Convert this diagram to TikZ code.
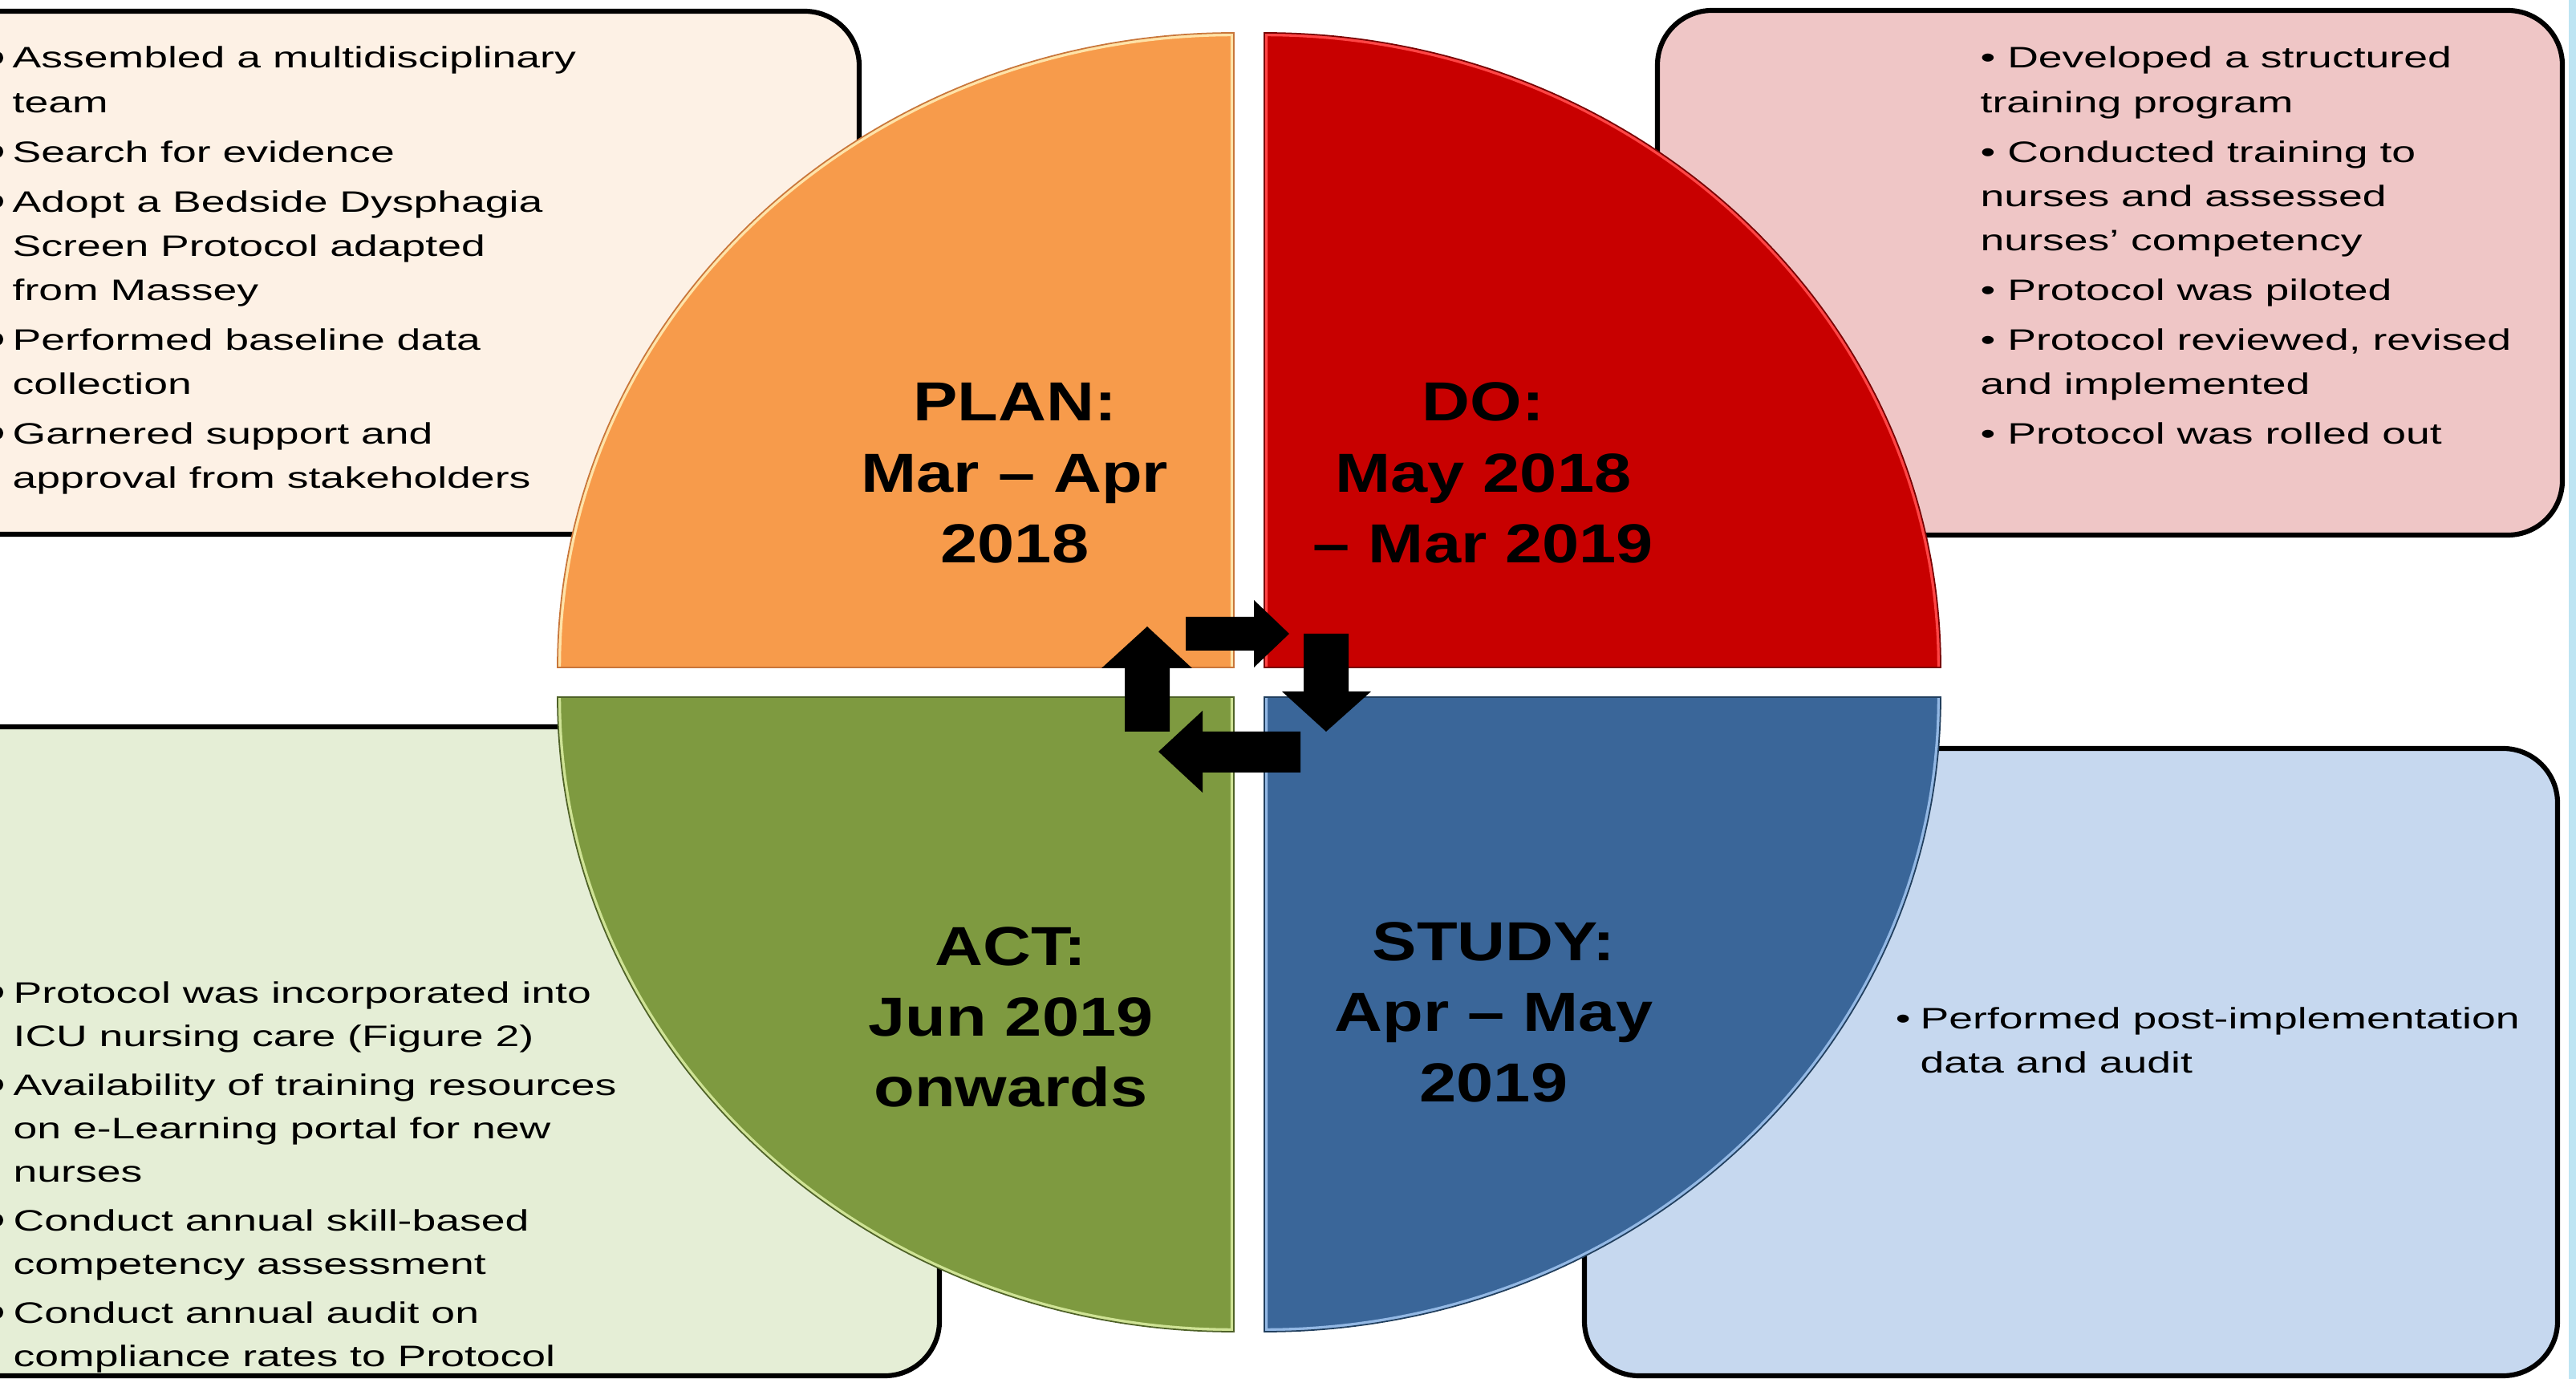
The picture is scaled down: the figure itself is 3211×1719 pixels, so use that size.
\documentclass[tikz,border=0pt]{standalone}
\usepackage{fontspec}
\setmainfont{Liberation Sans}
\newfontfamily\bodyfont{Liberation Sans}[FakeStretch=1.45]
\newfontfamily\headfont{Liberation Sans}[FakeStretch=1.21]
\newdimen\pxu \pxu=0.28453pt

% phase colours
\definecolor{planfill}{HTML}{F79B4B}
\definecolor{planline}{HTML}{C9763A}
\definecolor{planlite}{HTML}{FFE3A8}
\definecolor{dofill}{HTML}{C80000}
\definecolor{doline}{HTML}{7A0000}
\definecolor{dolite}{HTML}{FF4545}
\definecolor{actfill}{HTML}{7E9A40}
\definecolor{actline}{HTML}{4F6228}
\definecolor{actlite}{HTML}{CFE395}
\definecolor{studyfill}{HTML}{3A6699}
\definecolor{studyline}{HTML}{22405F}
\definecolor{studylite}{HTML}{93B8E4}
% note box backgrounds
\definecolor{planbg}{HTML}{FDF1E5}
\definecolor{dobg}{HTML}{EFC6C6}
\definecolor{actbg}{HTML}{E5EED6}
\definecolor{studybg}{HTML}{C6D8EF}
\definecolor{edgeblue}{HTML}{BEE5F3}

\newcommand{\notesize}{\fontsize{10.5pt}{15.65pt}\selectfont}
\newcommand{\notesizetight}{\fontsize{10.5pt}{15.36pt}\selectfont}
\newcommand{\headsize}{\fontsize{19.5pt}{25.04pt}\selectfont}

\tikzset{
  notebox/.style={draw=black, line width=1.75pt, rounded corners=0.68cm},
  textblk/.style={anchor=base west, inner sep=0pt},
  headblk/.style={anchor=base, inner sep=0pt},
  blockarrow/.style={fill=black},
  dot/.style={fill=black},
  planshape/.style={insert path={(1538,832) -- (695,832) .. controls (695,395.1) and (1072.4,41) .. (1538,41) -- cycle}},
  doshape/.style={insert path={(1576,832) -- (1576,41) .. controls (2041.6,41) and (2419,395.1) .. (2419,832) -- cycle}},
  actshape/.style={insert path={(1538,869) -- (695,869) .. controls (695,1305.9) and (1072.4,1660) .. (1538,1660) -- cycle}},
  studyshape/.style={insert path={(1576,869) -- (2419,869) .. controls (2419,1305.9) and (2041.6,1660) .. (1576,1660) -- cycle}},
  bevel/.style={line width=2.4pt}
}

\begin{document}
\begin{tikzpicture}[x=0.01cm,y=-0.01cm]
\useasboundingbox (0,0) rectangle (3211,1719);
\clip (0,0) rectangle (3211,1719);
\fill[white] (0,0) rectangle (3211,1719);

% ---- note boxes behind the cycle ----
\draw[notebox, fill=planbg]  (-120,14)  rectangle (1071,666);
\draw[notebox, fill=dobg]    (2066,13)  rectangle (3194,667);
\draw[notebox, fill=actbg]   (-120,906) rectangle (1171,1715);
\draw[notebox, fill=studybg] (1975,933) rectangle (3188,1715);

% thin coloured strip at the right margin
\fill[edgeblue] (3202,0) rectangle (3211,1719);

% ---- four quadrants of the PDSA cycle ----
\fill[planfill, planshape];
\begin{scope}
  \clip[planshape];
  \draw[bevel, planlite] (695,832) .. controls (695,395.1) and (1072.4,41) .. (1538,41) -- (1538,832);
\end{scope}
\draw[planline, line width=0.5pt, planshape];

\fill[dofill, doshape];
\begin{scope}
  \clip[doshape];
  \draw[bevel, dolite] (2419,832) .. controls (2419,395.1) and (2041.6,41) .. (1576,41) -- (1576,832);
\end{scope}
\draw[doline, line width=0.5pt, doshape];

\fill[actfill, actshape];
\begin{scope}
  \clip[actshape];
  \draw[bevel, actlite] (695,869) .. controls (695,1305.9) and (1072.4,1660) .. (1538,1660) -- (1538,869);
\end{scope}
\draw[actline, line width=0.5pt, actshape];

\fill[studyfill, studyshape];
\begin{scope}
  \clip[studyshape];
  \draw[bevel, studylite] (2419,869) .. controls (2419,1305.9) and (2041.6,1660) .. (1576,1660) -- (1576,869);
\end{scope}
\draw[studyline, line width=0.5pt, studyshape];

% ---- phase titles ----
\node[headblk] (planhead) at (1265,525) {\parbox[t]{600\pxu}{\centering\headsize\headfont\bfseries
  PLAN:\\ Mar \textendash{} Apr\\ 2018}};
\node[headblk] (dohead) at (1849,525) {\parbox[t]{600\pxu}{\centering\headsize\headfont\bfseries
  DO:\\ May 2018\\ \textendash{} Mar 2019}};
\node[headblk] (acthead) at (1260,1203) {\parbox[t]{600\pxu}{\centering\headsize\headfont\bfseries
  ACT:\\ Jun 2019\\ onwards}};
\node[headblk] (studyhead) at (1862,1197) {\parbox[t]{600\pxu}{\centering\headsize\headfont\bfseries
  STUDY:\\ Apr \textendash{} May\\ 2019}};

% ---- cycle arrows ----
\fill[blockarrow] (1478,769) -- (1563,769) -- (1563,748) -- (1607,790) -- (1563,832) -- (1563,811) -- (1478,811) -- cycle;
\fill[blockarrow] (1625,790) -- (1681,790) -- (1681,862) -- (1709,862) -- (1653,912) -- (1598,862) -- (1625,862) -- cycle;
\fill[blockarrow] (1621,912) -- (1621,963) -- (1499,963) -- (1499,988) -- (1444,937) -- (1499,886) -- (1499,912) -- cycle;
\fill[blockarrow] (1402,912) -- (1402,833) -- (1373,833) -- (1430,781) -- (1486,833) -- (1458,833) -- (1458,912) -- cycle;

% ---- note texts ----
% list markers of the left-hand boxes, mostly beyond the left margin
\foreach \yb in {85,202,264,436,553,1250,1365,1534,1649}
  \fill[dot] (-4,\yb-13) circle[radius=8];

\node[textblk] (plantext) at (15,85) {\parbox[t]{1000\pxu}{\notesize\bodyfont\raggedright\parskip=2pt
  Assembled a multidisciplinary\\ team\par
  Search for evidence\par
  Adopt a Bedside Dysphagia\\ Screen Protocol adapted\\ from Massey\par
  Performed baseline data\\ collection\par
  Garnered support and\\ approval from stakeholders}};

\node[textblk] (dotext) at (2468,85) {\parbox[t]{1000\pxu}{\notesize\bodyfont\raggedright\parskip=2pt
  \textbullet\ Developed a structured\\ training program\par
  \textbullet\ Conducted training to\\ nurses and assessed\\ nurses’ competency\par
  \textbullet\ Protocol was piloted\par
  \textbullet\ Protocol reviewed, revised\\ and implemented\par
  \textbullet\ Protocol was rolled out}};

\node[textblk] (acttext) at (16,1250) {\parbox[t]{1100\pxu}{\notesizetight\bodyfont\raggedright\parskip=2pt
  Protocol was incorporated into\\ ICU nursing care (Figure 2)\par
  Availability of training resources\\ on e-Learning portal for new\\ nurses\par
  Conduct annual skill-based\\ competency assessment\par
  Conduct annual audit on\\ compliance rates to Protocol}};

\node[textblk] (studytext) at (2393,1282) {\parbox[t]{1000\pxu}{\notesize\bodyfont\raggedright
  \leavevmode\llap{\textbullet\hspace{12\pxu}}Performed post-implementation\\ data and audit}};
\end{tikzpicture}
\end{document}
